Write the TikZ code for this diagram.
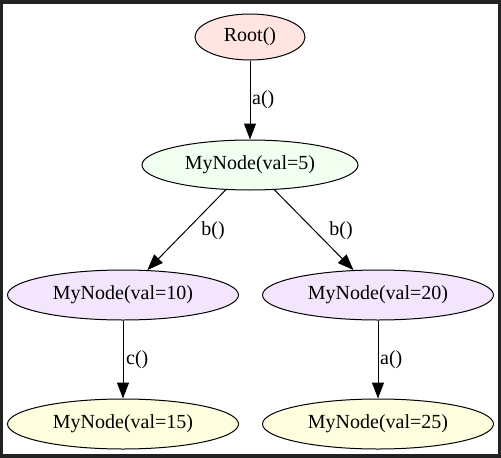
\documentclass[tikz,border=0pt]{standalone}
\usepackage{fontspec}
\setmainfont{Liberation Serif}
\usetikzlibrary{shapes.geometric,arrows.meta}

\definecolor{framegray}{HTML}{222222}
\definecolor{rootfill}{HTML}{FFE4E1}
\definecolor{topfill}{HTML}{F0FFF0}
\definecolor{midfill}{HTML}{F3E5FC}
\definecolor{leaffill}{HTML}{FFFFE0}

\begin{document}
\begin{tikzpicture}[x=1pt, y=-1pt,
    callnode/.style={draw, ellipse, line width=1pt, inner sep=0pt, minimum height=50pt,
        font=\fontsize{20}{24}\selectfont},
    calledge/.style={-{Triangle[length=16pt,width=12pt]}, line width=1pt},
    calllabel/.style={font=\fontsize{20}{24}\selectfont, inner sep=0pt}]

    % Frame round the graph
    \fill[framegray] (0, 0) rectangle (501, 458);
    \fill[white] (3, 4) rectangle (498, 454);

    % Nodes of the call tree
    \node[callnode, fill=rootfill, minimum width=110pt, minimum height=46pt] (Root) at (250, 37) {Root()};
    \node[callnode, fill=topfill, minimum width=216pt] (N5) at (250, 165) {MyNode(val=5)};
    \node[callnode, fill=midfill, minimum width=231pt] (N10) at (123, 295) {MyNode(val=10)};
    \node[callnode, fill=midfill, minimum width=231pt] (N20) at (378, 295) {MyNode(val=20)};
    \node[callnode, fill=leaffill, minimum width=231pt] (N15) at (123, 424) {MyNode(val=15)};
    \node[callnode, fill=leaffill, minimum width=231pt] (N25) at (378, 424) {MyNode(val=25)};

    % Connections
    \draw[calledge] (Root) -- (N5);
    \draw[calledge] (N5) -- (N10);
    \draw[calledge] (N5) -- (N20);
    \draw[calledge] (N10) -- (N15);
    \draw[calledge] (N20) -- (N25);

    % Edge labels
    \node[calllabel, anchor=west] (La) at (252, 100) {a()};
    \node[calllabel] (Lb1) at (213, 231) {b()};
    \node[calllabel] (Lb2) at (341, 231) {b()};
    \node[calllabel, anchor=west] (Lc) at (126, 360) {c()};
    \node[calllabel, anchor=west] (La2) at (380, 360) {a()};

\end{tikzpicture}
\end{document}
